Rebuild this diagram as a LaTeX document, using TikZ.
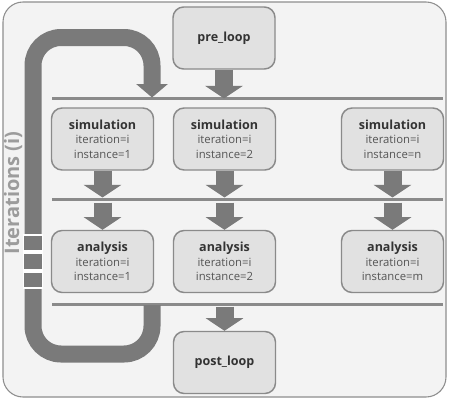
\documentclass[tikz,border=0pt]{standalone}
\usepackage{fontspec}
\setmainfont{Open Sans}
\usetikzlibrary{arrows.meta,calc}
\definecolor{bgfill}{HTML}{F3F3F3}
\definecolor{outline}{HTML}{8E8E8E}
\definecolor{boxfill}{HTML}{E1E1E1}
\definecolor{boxline}{HTML}{8A8A8A}
\definecolor{arr}{HTML}{7A7A7A}
\definecolor{linec}{HTML}{8A8A8A}
\definecolor{txtb}{HTML}{333333}
\definecolor{txt}{HTML}{555555}
\definecolor{itc}{HTML}{9C9C9C}
\begin{document}
\begin{tikzpicture}[x=0.75pt,y=-0.75pt,
  box/.style={draw=boxline, fill=boxfill, line width=1.1pt, rounded corners=8pt,
    minimum width=76.5pt, minimum height=46.5pt, inner sep=0pt, align=center,
    font=\fontsize{8.5}{11}\selectfont, text=txt},
  blk/.style={draw=arr, line width=13.5pt, -{Triangle[width=28pt,length=9.5pt]}},
  sepline/.style={draw=linec, line width=2pt},
]
\useasboundingbox (0,0) rectangle (450,400);
\fill[white] (0,0) rectangle (450,400);
\draw[fill=bgfill, draw=outline, line width=0.8pt, rounded corners=15pt] (3,2) rectangle (446,397);

% separator lines
\coordinate (l1w) at (52,98.5);  \coordinate (l1e) at (443,98.5);
\coordinate (l2w) at (52,199.5); \coordinate (l2e) at (443,199.5);
\coordinate (l3w) at (52,304.5); \coordinate (l3e) at (443,304.5);
\draw[sepline] (l1w) -- (l1e);
\draw[sepline] (l2w) -- (l2e);
\draw[sepline] (l3w) -- (l3e);

% nodes
\newcommand{\bt}[1]{{\color{txtb}\bfseries\fontsize{9.4}{11}\selectfont #1}}
\node[box] (pre) at (224,38) {\bt{pre\_loop}};
\node[box] (sim1) at (102.5,139) {\bt{simulation}\\iteration=i\\instance=1};
\node[box] (sim2) at (224.5,139) {\bt{simulation}\\iteration=i\\instance=2};
\node[box] (sim3) at (392.5,139) {\bt{simulation}\\iteration=i\\instance=n};
\node[box] (ana1) at (102.5,261.5) {\bt{analysis}\\iteration=i\\instance=1};
\node[box] (ana2) at (224.5,261.5) {\bt{analysis}\\iteration=i\\instance=2};
\node[box] (ana3) at (392.5,261.5) {\bt{analysis}\\iteration=i\\instance=m};
\node[box] (post) at (224.5,362.5) {\bt{post\_loop}};

% block arrows
\draw[blk] (pre.south) -- (pre.south |- l1w);
\foreach \n in {sim1,sim2,sim3}{
  \draw[blk] (\n.south) -- ($(\n.south |- l2w)+(0,-2)$);
}
\foreach \n in {ana1,ana2,ana3}{
  \draw[blk] ($(\n.north |- l2w)+(0,3)$) -- (\n.north);
}
\draw[blk] ($(post.north |- l3w)+(0,2)$) -- (post.north);

% loop band
\coordinate (lp0) at (152,305);
\coordinate (lp1) at (152,97.5);
\draw[draw=arr, line width=12.75pt, rounded corners=21pt,
  -{Triangle[width=23pt,length=10pt]}]
  (lp0) -- (152,354) -- (33,354) -- (33,37.5) -- (152,37.5) -- (lp1);
\foreach \ya/\yb in {235/251,253/270,272/288}{
  \draw[fill=arr, draw=white, line width=0.8pt] (23.5,\ya) rectangle (42.5,\yb);
}

\node[rotate=90, text=itc, font=\bfseries\fontsize{15}{18}\selectfont] (iter) at (13,193) {Iterations (i)};
\end{tikzpicture}
\end{document}
